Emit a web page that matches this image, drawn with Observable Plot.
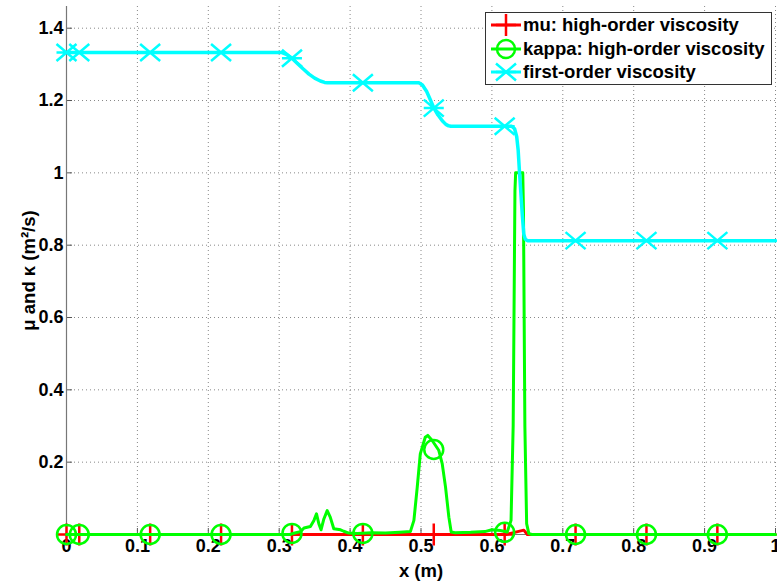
<!DOCTYPE html>
<html>
<head>
<meta charset="utf-8">
<script src="https://cdn.jsdelivr.net/npm/d3@7"></script>
<script src="https://cdn.jsdelivr.net/npm/@observablehq/plot@0.6"></script>
<style>
  html, body { margin: 0; padding: 0; background: #fff; overflow: hidden; }
  #wrap { position: relative; width: 777px; height: 582px; }
  #legend {
    position: absolute; left: 485px; top: 12px; width: 287px; height: 73px;
    border: 1px solid #333; background: #fff; box-sizing: border-box;
    font-family: "Liberation Sans", Arial, sans-serif; font-weight: bold; font-size: 18.5px; color: #000;
  }
  .item { position: absolute; left: 0; height: 24px; display: flex; align-items: center; }
  .item svg { display: block; margin-left: 3px; }
  .item span { margin-left: 1px; white-space: nowrap; }
</style>
</head>
<body>
<div id="wrap"><div id="legend"></div></div>
<script>
// Axis ticks
const xTicks = [0, 0.1, 0.2, 0.3, 0.4, 0.5, 0.6, 0.7, 0.8, 0.9, 1];
const yTicks = [0.2, 0.4, 0.6, 0.8, 1, 1.2, 1.4];
const yGrid = [0, 0.2, 0.4, 0.6, 0.8, 1, 1.2, 1.4];

// mu: high-order viscosity
const muX = [0, 0.62, 0.645, 0.65, 1];
const muY = [0, 0, 0.012, 0, 0];

// kappa: high-order viscosity
const kappaX = [0, 0.315, 0.322, 0.330, 0.335, 0.344, 0.349, 0.3526, 0.356, 0.359, 0.363, 0.3677, 0.372, 0.377,
  0.3865, 0.391, 0.398, 0.41, 0.43, 0.45, 0.47, 0.485, 0.49, 0.4947, 0.499, 0.506, 0.5096, 0.5158, 0.525,
  0.5299, 0.5346, 0.5393, 0.5426, 0.548, 0.57, 0.59, 0.600, 0.612, 0.6216, 0.627, 0.630, 0.6325, 0.6335,
  0.6435, 0.6445, 0.6465, 0.649, 0.652, 0.656, 1];
const kappaY = [0, 0, 0.004, 0.008, 0.018, 0.022, 0.039, 0.057, 0.029, 0.013, 0.043, 0.066, 0.048, 0.016,
  0.013, 0.009, 0.004, 0.003, 0.005, 0.004, 0.006, 0.008, 0.039, 0.131, 0.223, 0.269, 0.274, 0.26, 0.233,
  0.196, 0.131, 0.048, 0.007, 0.005, 0.006, 0.008, 0.013, 0.011, 0.007, 0.039, 0.3, 0.95, 1.0,
  1.0, 0.9, 0.3, 0.03, 0.003, 0, 0];

// first-order viscosity
const firstX = [0, 0.303, 0.31, 0.318, 0.326, 0.334, 0.342, 0.350, 0.358, 0.364, 0.368, 0.497, 0.502, 0.508,
  0.513, 0.518, 0.524, 0.530, 0.535, 0.539, 0.542, 0.628, 0.632, 0.635, 0.637, 0.639, 0.641, 0.643, 0.645,
  0.647, 0.650, 1];
const firstY = [1.333, 1.333, 1.328, 1.317, 1.302, 1.287, 1.273, 1.262, 1.254, 1.250, 1.249, 1.249, 1.243, 1.225,
  1.203, 1.180, 1.160, 1.144, 1.134, 1.130, 1.129, 1.129, 1.122, 1.100, 1.064, 1.0, 0.94, 0.88, 0.83,
  0.817, 0.8125, 0.8125];

// Marker positions
const markX = [0, 0.018, 0.118, 0.218, 0.318, 0.418, 0.518, 0.618, 0.718, 0.818, 0.918];
const muMarkY = [0, 0, 0, 0, 0, 0, 0, 0, 0, 0, 0];
const kappaMarkY = [0, 0, 0, 0, 0.003, 0.003, 0.235, 0.006, 0, 0, 0];
const firstMarkY = [1.333, 1.333, 1.333, 1.333, 1.317, 1.249, 1.179, 1.129, 0.8125, 0.8125, 0.8125];

const RED = "#ff0000", GREEN = "#00ff00", CYAN = "#00ffff";

const pts = (xs, ys) => xs.map((x, i) => ({x, y: ys[i]}));

// Marker glyphs
const plusSym = {draw(ctx, size) {
  const r = Math.sqrt(size / Math.PI);
  ctx.moveTo(-r, 0); ctx.lineTo(r, 0);
  ctx.moveTo(0, -r * 1.1); ctx.lineTo(0, r * 1.1);
}};
const timesSym = {draw(ctx, size) {
  const r = Math.sqrt(size / Math.PI);
  const h = r * 0.85;
  ctx.moveTo(-r, -h); ctx.lineTo(r, h);
  ctx.moveTo(-r, h); ctx.lineTo(r, -h);
  ctx.moveTo(-r, 0); ctx.lineTo(r, 0);
}};
const circleSym = {draw(ctx, size) {
  const r = Math.sqrt(size / Math.PI);
  ctx.moveTo(r, 0);
  ctx.arc(0, 0, r, 0, 2 * Math.PI);
}};

const mu = pts(muX, muY), kappa = pts(kappaX, kappaY), first = pts(firstX, firstY);
const muM = pts(markX, muMarkY), kappaM = pts(markX, kappaMarkY), firstM = pts(markX, firstMarkY);

const chart = Plot.plot({
  width: 777,
  height: 582,
  marginLeft: 66,
  marginRight: 2,
  marginTop: 6,
  marginBottom: 48,
  style: {fontFamily: "'Liberation Sans', Arial, sans-serif", fontSize: "18px", fontWeight: "bold", color: "#000", background: "#fff"},
  x: {domain: [0, 1]},
  y: {domain: [0, 1.46]},
  marks: [
    Plot.gridX(xTicks, {stroke: "#888", strokeOpacity: 1, strokeDasharray: "1,3"}),
    Plot.gridY(yGrid, {stroke: "#888", strokeOpacity: 1, strokeDasharray: "1,3"}),
    // inward tick marks
    Plot.axisX(xTicks, {tickSize: 6, dy: -6, tickFormat: () => "", label: null, stroke: "#555"}),
    Plot.axisY(yTicks, {tickSize: 6, dx: 6, tickFormat: () => "", label: null, stroke: "#555"}),
    // tick labels
    Plot.axisX(xTicks, {tickSize: 0, tickPadding: 5, tickFormat: d3.format("~g"), label: null}),
    Plot.axisY(yTicks, {tickSize: 0, tickPadding: 3, tickFormat: d3.format("~g"), label: null}),
    Plot.ruleY([0], {stroke: "#777", strokeWidth: 1.2}),
    Plot.ruleX([0], {stroke: "#777", strokeWidth: 1.2}),
    // mu
    Plot.line(mu, {x: "x", y: "y", stroke: RED, strokeWidth: 3}),
    Plot.dot(muM, {x: "x", y: "y", symbol: plusSym, r: 10, stroke: RED, strokeWidth: 2.5, fill: "none"}),
    // kappa
    Plot.line(kappa, {x: "x", y: "y", stroke: GREEN, strokeWidth: 3}),
    Plot.dot(kappaM, {x: "x", y: "y", symbol: circleSym, r: 9.5, stroke: GREEN, strokeWidth: 2.5, fill: "none"}),
    // first-order
    Plot.line(first, {x: "x", y: "y", stroke: CYAN, strokeWidth: 3.5}),
    Plot.dot(firstM, {x: "x", y: "y", symbol: timesSym, r: 10, stroke: CYAN, strokeWidth: 2.5, fill: "none"}),
    // axis titles
    Plot.text(["x (m)"], {text: d => d, frameAnchor: "bottom", dy: 37, textAnchor: "middle", lineAnchor: "middle", fontSize: 18.5, fontWeight: "bold"}),
    Plot.text(["\u03bc and \u03ba (m\u00b2/s)"], {text: d => d, frameAnchor: "left", dx: -37, rotate: -90, textAnchor: "middle", lineAnchor: "middle", fontSize: 18.5, fontWeight: "bold"})
  ]
});
document.getElementById("wrap").prepend(chart);

// Legend entries
const entries = [
  {label: "mu: high-order viscosity", color: RED, sym: "plus"},
  {label: "kappa: high-order viscosity", color: GREEN, sym: "circle"},
  {label: "first-order viscosity", color: CYAN, sym: "times"}
];
const legend = d3.select("#legend");
entries.forEach((e, i) => {
  const item = legend.append("div").attr("class", "item").style("top", `${i * 23.5}px`);
  const svg = item.append("svg").attr("width", 33).attr("height", 24);
  svg.append("line").attr("x1", 2).attr("x2", 32).attr("y1", 12).attr("y2", 12)
    .attr("stroke", e.color).attr("stroke-width", 3);
  const g = svg.append("g").attr("transform", "translate(17,12)")
    .attr("stroke", e.color).attr("stroke-width", 2.5).attr("fill", "none");
  const sym = e.sym === "plus" ? plusSym : e.sym === "circle" ? circleSym : timesSym;
  const r = e.sym === "circle" ? 9 : 10;
  g.append("path").attr("d", d3.symbol(sym, Math.PI * r * r)());
  item.append("span").text(e.label);
});
</script>
</body>
</html>
